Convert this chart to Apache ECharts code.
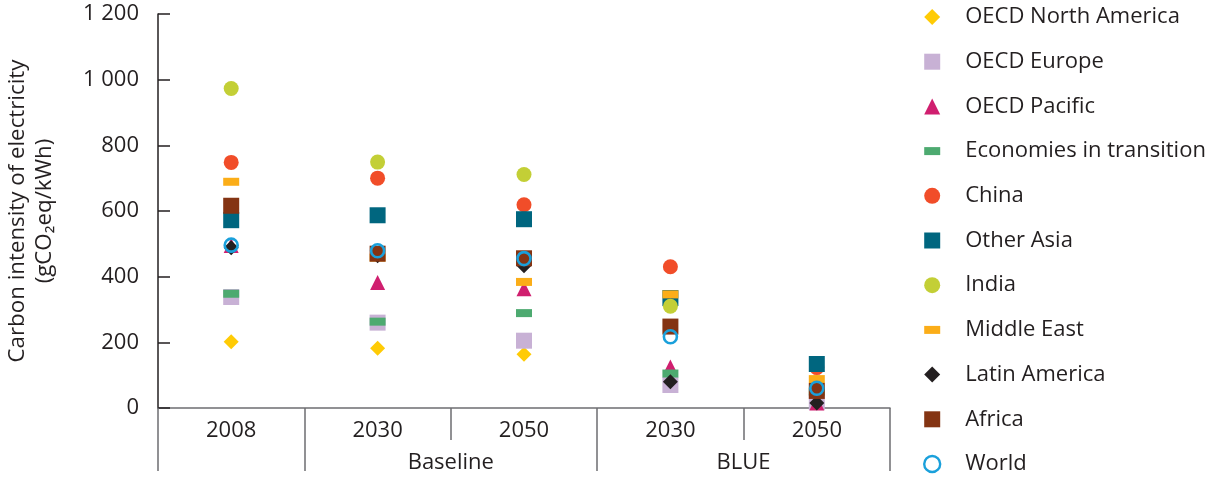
<!DOCTYPE html>
<html><head><meta charset="utf-8">
<script src="https://cdn.jsdelivr.net/npm/echarts@6/dist/echarts.min.js"></script>
<style>html,body{margin:0;padding:0;background:#fff}#c{width:1212px;height:477px}</style>
</head><body><div id="c"></div>
<script>
// ---- data ----
const categories = ['2008', '2030', '2050', '2030', '2050'];
const scenarioSlots = ['', '', '', '', 'Baseline', '', '', '', 'BLUE', '', ''];
const yTicks = [0, 200, 400, 600, 800, 1000, 1200];

const oecdNorthAmerica = [202, 182, 164, 72, 26];
const oecdEurope = [338, 260, 205, 70, 18];
const oecdPacific = [495, 382, 363, 125, 15];
const economiesInTransition = [348, 263, 289, 105, 50];
const china = [748, 700, 619, 430, 123];
const otherAsia = [572, 587, 575, 335, 134];
const india = [973, 749, 711, 310, 78];
const middleEast = [689, 458, 384, 346, 88];
const latinAmerica = [488, 464, 433, 80, 15];
const africa = [616, 470, 456, 248, 52];
const world = [496, 479, 455, 217, 60];

const seriesNames = ['OECD North America', 'OECD Europe', 'OECD Pacific', 'Economies in transition',
  'China', 'Other Asia', 'India', 'Middle East', 'Latin America', 'Africa', 'World'];
const seriesValues = [oecdNorthAmerica, oecdEurope, oecdPacific, economiesInTransition,
  china, otherAsia, india, middleEast, latinAmerica, africa, world];

// ---- styles ----
const dashPath = 'path://M0,0h16v8h-16z';
const styles = [
  {symbol: 'diamond', size: [15, 15], color: '#ffcb05', icon: 'diamond'},
  {symbol: 'rect', size: [16, 16], color: '#c8b1d5', icon: 'rect'},
  {symbol: 'triangle', size: [15, 15], color: '#d01f6f', icon: 'triangle'},
  {symbol: 'rect', size: [16, 8], color: '#4daa70', icon: dashPath},
  {symbol: 'circle', size: [15, 15], color: '#f14d29', icon: 'circle'},
  {symbol: 'rect', size: [16, 16], color: '#00667f', icon: 'rect'},
  {symbol: 'circle', size: [15, 15], color: '#c3cf36', icon: 'circle'},
  {symbol: 'rect', size: [16, 8], color: '#fbad18', icon: dashPath},
  {symbol: 'diamond', size: [15, 15], color: '#231f20', icon: 'diamond'},
  {symbol: 'rect', size: [16, 16], color: '#843413', icon: 'rect'},
  {symbol: 'circle', size: [13, 13], color: '#1aa0db', icon: 'circle', hollow: true}
];

const FONT = 'Open Sans';
const TXT = '#231f20';
const GRAY = '#6d6e71';

const series = seriesNames.map((n, i) => {
  const s = styles[i];
  return {
    name: n,
    type: 'scatter',
    xAxisIndex: 0,
    symbol: s.symbol,
    symbolSize: s.size,
    itemStyle: s.hollow ? {color: 'rgba(255,255,255,0)', borderColor: s.color, borderWidth: 2.6, opacity: 1}
                        : {color: s.color, opacity: 1},
    emphasis: {disabled: true},
    data: seriesValues[i]
  };
});

const legendData = seriesNames.map((n, i) => {
  const s = styles[i];
  const item = {name: n, icon: s.icon};
  if (s.hollow) item.itemStyle = {color: 'rgba(255,255,255,0)', borderColor: s.color, borderWidth: 2.4, opacity: 1};
  else item.itemStyle = {color: s.color, opacity: 1};
  return item;
});

const chart = echarts.init(document.getElementById('c'), null, {renderer: 'canvas'});
chart.setOption({
  animation: false,
  backgroundColor: '#fff',
  textStyle: {fontFamily: FONT, color: TXT},
  grid: {left: 158, right: 322, top: 14, bottom: 69, containLabel: false, outerBoundsMode: 'none'},
  legend: {
    orient: 'vertical',
    left: 923, top: 6,
    padding: 0,
    itemWidth: 16, itemHeight: 16,
    itemGap: 22.7,
    selectedMode: false,
    data: legendData,
    textStyle: {fontFamily: FONT, fontSize: 22, lineHeight: 22, color: TXT, padding: [0, 0, 0, 20]}
  },
  xAxis: [
    {
      type: 'category',
      data: categories,
      position: 'bottom',
      axisLine: {show: true, lineStyle: {color: GRAY, width: 1.5}},
      axisTick: {show: true, interval: 0, length: 32, lineStyle: {color: GRAY, width: 1.5}},
      axisLabel: {interval: 0, margin: 12, fontFamily: FONT, fontSize: 22, color: TXT},
      splitLine: {show: false}
    },
    {
      type: 'category',
      data: scenarioSlots,
      position: 'bottom',
      boundaryGap: false,
      axisLine: {show: false},
      axisTick: {show: true, length: 63, lineStyle: {color: GRAY, width: 1.5},
        interval: function (idx) { return idx === 0 || idx === 2 || idx === 6 || idx === 10; }},
      axisLabel: {interval: 0, margin: 44, fontFamily: FONT, fontSize: 22, color: TXT},
      splitLine: {show: false}
    }
  ],
  yAxis: {
    type: 'value',
    min: yTicks[0], max: yTicks[yTicks.length - 1], interval: yTicks[1] - yTicks[0],
    name: 'Carbon intensity of electricity\n(gCO\u2082eq/kWh)',
    nameLocation: 'middle', nameRotate: 90, nameGap: 100,
    nameTextStyle: {fontFamily: FONT, fontSize: 22.3, lineHeight: 27, color: TXT},
    axisLine: {show: true, lineStyle: {color: TXT, width: 1.5}},
    axisTick: {show: true, inside: true, length: 12, lineStyle: {color: TXT, width: 1.5}},
    axisLabel: {margin: 19, fontFamily: FONT, fontSize: 22, color: TXT,
      formatter: function (v) { return v >= 1000 ? Math.floor(v / 1000) + ' ' + String(v % 1000).padStart(3, '0') : String(v); }},
    splitLine: {show: false}
  },
  series: series
});
</script>
</body></html>
